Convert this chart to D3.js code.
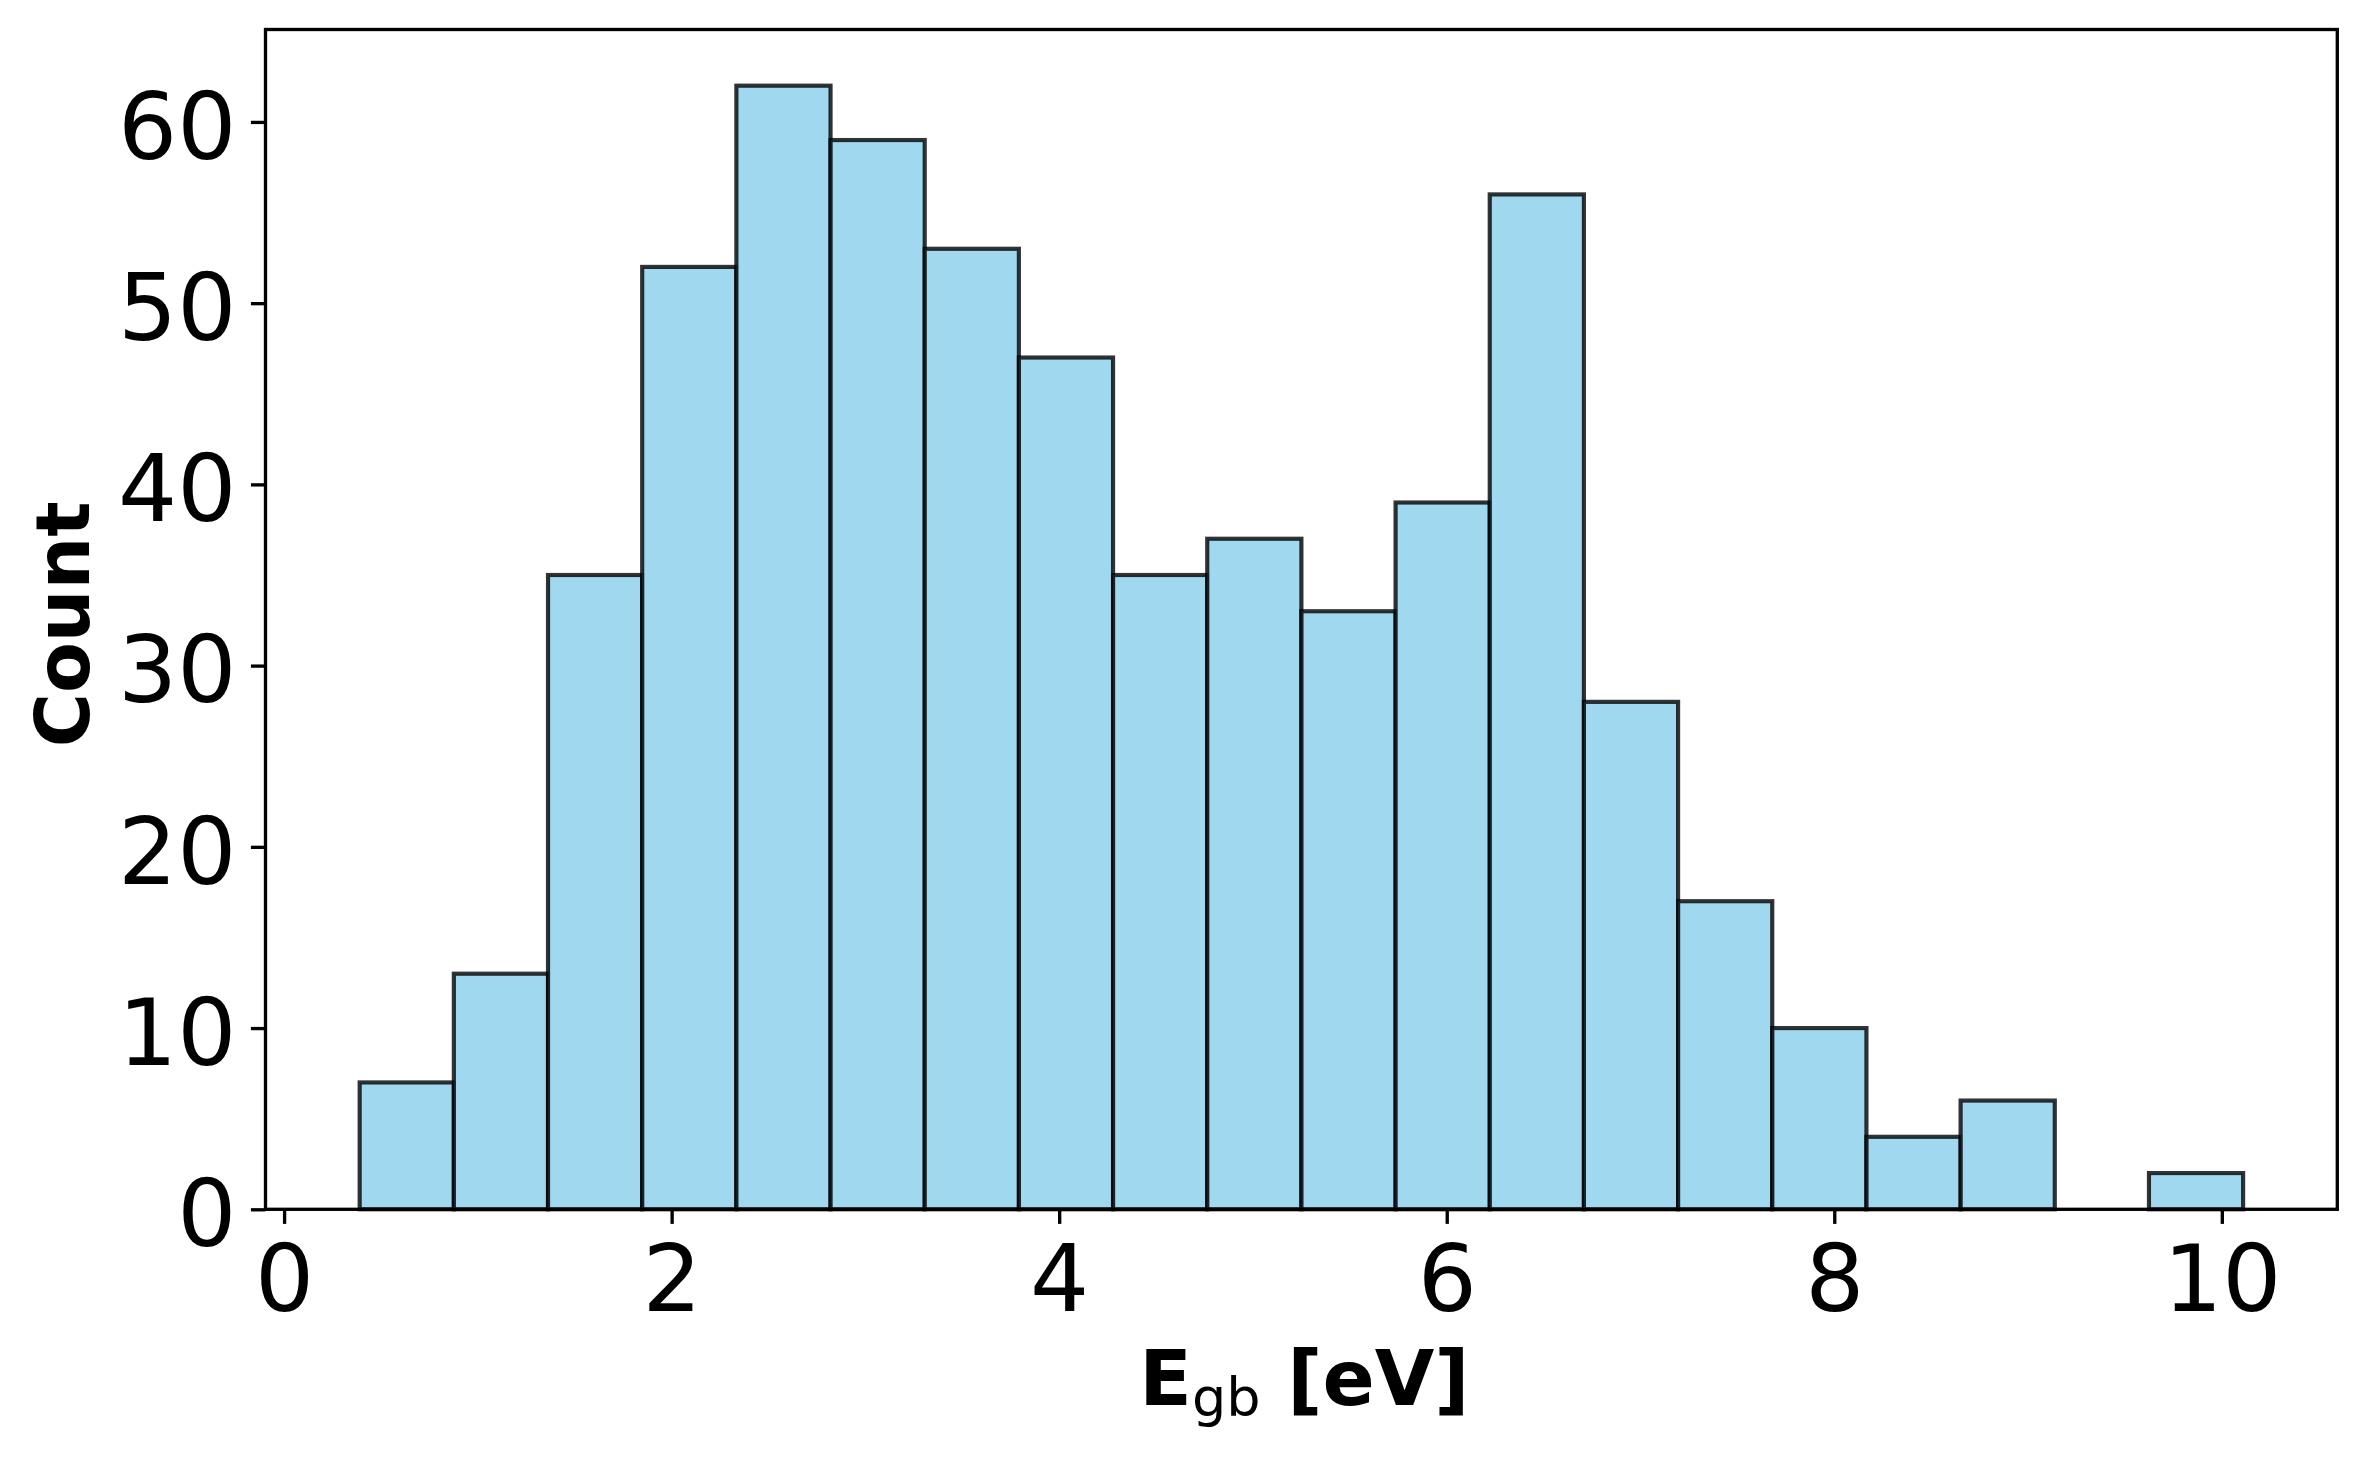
<!DOCTYPE html>
<html>
<head>
<meta charset="utf-8">
<script src="https://cdn.jsdelivr.net/npm/d3@7"></script>
<style>
  body { margin: 0; background: #fff; }
  svg { display: block; font-family: "DejaVu Sans", sans-serif; }
</style>
</head>
<body>
<script>
// histogram counts per bin
var counts = [7, 13, 35, 52, 62, 59, 53, 47, 35, 37, 33, 39, 56, 28, 17, 10, 4, 6, 0, 2];

// bin edges (20 equal bins)
var binEdges = [0.39, 0.876, 1.362, 1.848, 2.334, 2.82, 3.306, 3.792, 4.278, 4.764,
                5.25, 5.736, 6.222, 6.708, 7.194, 7.68, 8.166, 8.652, 9.138, 9.624, 10.11];

var xTicks = [0, 2, 4, 6, 8, 10],
    yTicks = [0, 10, 20, 30, 40, 50, 60];

var width = 2367,
    height = 1459,
    margin = {top: 29.5, right: 29.7, bottom: 249.7, left: 265.5},
    innerW = width - margin.left - margin.right,
    innerH = height - margin.top - margin.bottom;

var dpi = 300 / 72,          // matplotlib points -> px
    spineW = 0.8 * dpi,
    tickLen = 3.5 * dpi,
    pad = 3.5 * dpi;

// matplotlib style 5% margins on x, 5% headroom on y
var xMin = binEdges[0], xMax = binEdges[binEdges.length - 1],
    xm = (xMax - xMin) * 0.05;

var x = d3.scaleLinear()
    .domain([xMin - xm, xMax + xm])
    .range([0, innerW]);

var y = d3.scaleLinear()
    .domain([0, d3.max(counts) * 1.05])
    .range([innerH, 0]);

var svg = d3.select("body").append("svg")
    .attr("width", width)
    .attr("height", height);

svg.append("rect")
    .attr("width", width)
    .attr("height", height)
    .attr("fill", "#fff");

var g = svg.append("g")
    .attr("transform", "translate(" + margin.left + "," + margin.top + ")");

var bins = counts.map(function(c, i) {
    return {x0: binEdges[i], x1: binEdges[i + 1], n: c};
}).filter(function(d) { return d.n > 0; });

g.append("g").selectAll("rect")
    .data(bins)
    .enter().append("rect")
    .attr("x", function(d) { return x(d.x0); })
    .attr("y", function(d) { return y(d.n); })
    .attr("width", function(d) { return x(d.x1) - x(d.x0); })
    .attr("height", function(d) { return y(0) - y(d.n); })
    .attr("fill", "skyblue")
    .attr("fill-opacity", 0.8)
    .attr("stroke", "black")
    .attr("stroke-opacity", 0.8)
    .attr("stroke-width", 1 * dpi);

// frame
g.append("rect")
    .attr("width", innerW)
    .attr("height", innerH)
    .attr("fill", "none")
    .attr("stroke", "#000")
    .attr("stroke-width", spineW);

var xAxis = g.append("g")
    .attr("transform", "translate(0," + innerH + ")")
    .call(d3.axisBottom(x).tickValues(xTicks).tickFormat(d3.format("d"))
        .tickSize(tickLen).tickSizeOuter(0).tickPadding(pad));

var yAxis = g.append("g")
    .call(d3.axisLeft(y).tickValues(yTicks).tickFormat(d3.format("d"))
        .tickSize(tickLen).tickSizeOuter(0).tickPadding(pad));

[xAxis, yAxis].forEach(function(a) {
    a.select(".domain").remove();
    a.selectAll(".tick line").attr("stroke", "#000").attr("stroke-width", spineW);
    a.selectAll(".tick text")
        .attr("fill", "#000")
        .style("font-family", "'DejaVu Sans'")
        .style("font-size", "93px");
});

xAxis.selectAll(".tick text").attr("dy", "0.777em");
yAxis.selectAll(".tick text").attr("dy", "0.39em");

// y label
svg.append("text")
    .attr("transform", "translate(89," + (margin.top + innerH / 2 + 5) + ") rotate(-90)")
    .attr("text-anchor", "middle")
    .style("font-size", "74px")
    .style("font-weight", "bold")
    .text("Count");

// x label: E_gb [eV]
var xl = svg.append("text")
    .attr("x", margin.left + innerW / 2 + 3)
    .attr("y", 1405)
    .attr("text-anchor", "middle")
    .style("font-size", "77px")
    .style("font-weight", "bold");
xl.append("tspan").text("E");
xl.append("tspan")
    .attr("dy", 10.7)
    .style("font-size", "54px")
    .style("font-weight", "normal")
    .text("gb");
xl.append("tspan")
    .attr("dy", -10.7)
    .text("\u00a0[eV]");
</script>
</body>
</html>
